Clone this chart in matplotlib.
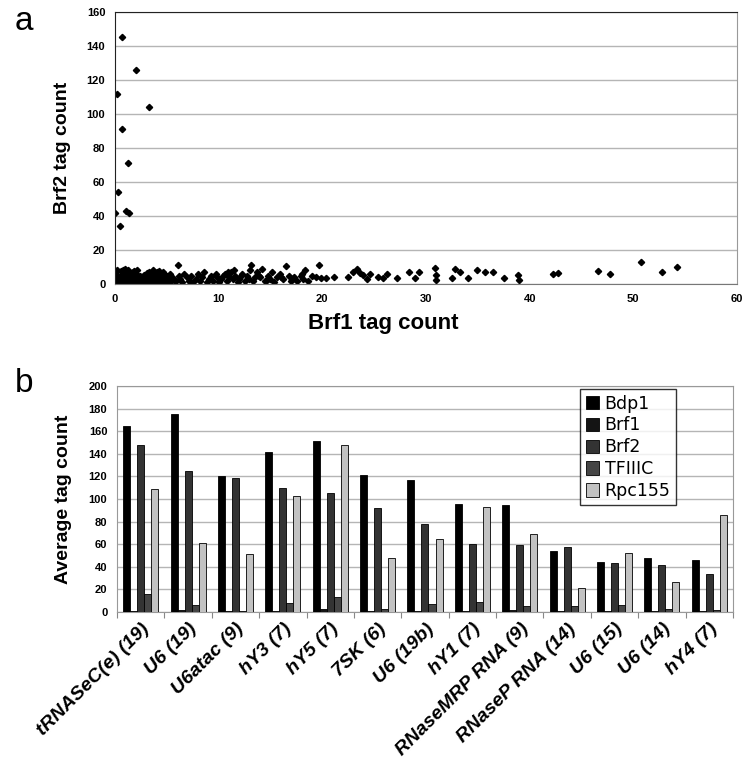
import numpy as np
import matplotlib
matplotlib.use("Agg")
from matplotlib import pyplot as plt

plt.rcParams['font.family'] = ['Liberation Sans', 'DejaVu Sans']

# ---- panel a: Brf1 vs Brf2 tag counts ----
brf1_dense = [
    0.0, 0.1, 0.2, 0.3, 0.4, 0.5, 0.6, 0.7, 0.8, 0.9,
    1.0, 1.1, 1.2, 1.3, 1.4, 1.5, 1.6, 1.7, 1.8, 1.9,
    2.0, 2.1, 2.2, 2.3, 2.4, 2.5, 2.6, 2.7, 2.8, 2.9,
    0.05, 0.15, 0.25, 0.35, 0.45, 0.55, 0.65, 0.75, 0.85, 0.95,
    1.05, 1.15, 1.25, 1.35, 1.45, 1.55, 1.65, 1.75, 1.85, 1.95,
    2.05, 2.15, 2.25, 2.35, 2.45, 2.55, 2.65, 2.75, 2.85, 2.95,
    0.1, 0.3, 0.5, 0.7, 0.9, 1.0, 1.2, 1.4, 1.6, 1.8,
    2.0, 2.2, 2.4, 2.6, 2.8, 3.0, 3.1, 3.2, 3.3, 3.4,
    3.5, 3.6, 3.7, 3.8, 3.9, 4.0, 4.1, 4.2, 4.3, 4.4,
    4.5, 4.6, 4.7, 4.8, 4.9, 5.0, 5.1, 5.2, 5.3, 5.4,
    3.05, 3.25, 3.45, 3.65, 3.85, 4.05, 4.25, 4.45, 4.65, 4.85,
    0.2, 0.6, 1.0, 1.3, 1.7, 2.1, 0.8, 1.5, 5.6, 5.8,
]
brf2_dense = [
    0.5, 1.0, 0.5, 1.5, 0.5, 1.0, 2.0, 0.5, 1.0, 1.5,
    0.5, 1.0, 2.0, 0.5, 1.0, 1.5, 0.5, 1.0, 0.5, 2.0,
    1.0, 0.5, 1.5, 1.0, 0.5, 1.0, 0.5, 1.5, 0.5, 1.0,
    3.0, 2.5, 3.5, 3.0, 2.5, 4.0, 3.0, 3.5, 2.5, 3.0,
    4.0, 3.0, 3.5, 2.5, 4.0, 3.0, 3.5, 3.0, 2.5, 3.5,
    3.0, 2.5, 3.0, 2.5, 3.0, 2.0, 3.5, 2.5, 3.0, 2.0,
    4.5, 5.0, 4.0, 5.5, 5.0, 7.0, 6.0, 6.5, 5.0, 7.5,
    6.0, 5.0, 4.5, 4.0, 5.5, 1.0, 4.0, 0.5, 2.0, 5.0,
    1.5, 3.0, 6.0, 1.0, 4.0, 2.0, 7.0, 0.5, 5.0, 3.0,
    1.0, 6.0, 2.0, 4.0, 1.0, 5.0, 3.0, 0.5, 6.0, 2.0,
    6.5, 7.0, 5.5, 8.0, 6.5, 5.0, 7.5, 4.0, 7.0, 5.5,
    8.5, 7.5, 9.0, 8.0, 7.0, 8.5, 8.0, 6.5, 3.5, 1.5,
]
brf1_mid = [
    5.9, 6.1, 6.3, 6.5, 6.7, 6.9, 7.1, 7.3, 7.5, 7.8,
    8.0, 8.2, 8.4, 8.6, 8.9, 9.1, 9.3, 9.5, 9.8, 10.0,
    10.2, 10.4, 10.6, 10.8, 11.0, 11.2, 11.4, 11.6, 11.9, 12.1,
    12.3, 12.5, 12.7, 12.9, 13.1, 13.3, 13.5, 13.7, 14.0, 14.2,
    14.5, 14.8, 15.0, 15.3, 15.6, 15.9, 16.2, 16.5, 16.8, 17.0,
    17.3, 17.6, 17.9, 18.1, 18.3, 18.6, 19.0, 19.4, 19.7, 6.2,
    9.7, 10.9, 12.0, 13.0, 13.9, 15.1, 16.0, 18.0, 11.5, 14.6,
]
brf2_mid = [
    2.0, 11.0, 3.0, 1.0, 6.0, 4.0, 2.0, 5.0, 1.0, 3.0,
    6.0, 2.0, 4.0, 7.0, 1.0, 3.0, 5.0, 2.0, 4.0, 1.0,
    3.0, 5.0, 6.0, 2.0, 4.0, 7.0, 3.0, 5.0, 1.0, 4.0,
    6.0, 2.0, 5.0, 3.0, 11.0, 2.0, 4.0, 7.0, 4.0, 9.0,
    2.0, 5.0, 3.0, 1.0, 4.0, 6.0, 3.0, 10.5, 5.0, 2.0,
    4.0, 2.0, 5.0, 3.0, 8.0, 2.0, 5.0, 4.0, 11.0, 5.0,
    6.0, 7.0, 3.0, 8.0, 5.0, 7.0, 4.0, 6.0, 8.0, 2.0,
]
brf1_far = [
    19.9, 20.4, 21.1, 22.5, 23.0, 23.3, 23.6, 23.9, 24.3, 24.6,
    25.4, 25.9, 26.2, 27.2, 28.4, 28.9, 29.3, 30.9, 31.0, 31.0,
    32.5, 32.8, 33.3, 34.1, 34.9, 35.7, 36.5, 37.5, 38.9, 39.0,
    42.3, 42.7, 46.6, 47.8, 50.7, 52.8, 54.2,
]
brf2_far = [
    3.3, 3.7, 4.3, 4.3, 7.3, 8.9, 6.3, 5.1, 3.1, 5.7,
    4.3, 3.7, 5.7, 3.3, 7.3, 3.3, 6.9, 9.2, 5.3, 2.4,
    3.3, 8.8, 7.3, 3.7, 8.2, 7.3, 7.3, 3.7, 5.3, 2.4,
    5.7, 6.3, 7.4, 5.7, 12.8, 6.9, 9.8,
]
brf1_hi = [0.65, 2.0, 0.16, 3.3, 0.65, 1.3, 0.3, 0.0, 1.07, 1.35, 0.5]
brf2_hi = [145.5, 126, 112, 104, 91, 71, 54, 41.5, 43, 41.5, 34]

# ---- panel b: average tag counts per gene class ----
genes = ['tRNASeC(e) (19)', 'U6 (19)', 'U6atac (9)', 'hY3 (7)', 'hY5 (7)',
         '7SK (6)', 'U6 (19b)', 'hY1 (7)', 'RNaseMRP RNA (9)',
         'RNaseP RNA (14)', 'U6 (15)', 'U6 (14)', 'hY4 (7)']
bdp1 = [165, 175, 120, 142, 151, 121, 117, 96, 95, 54, 44, 48, 46]
brf1 = [0.5, 1.5, 0.5, 0.5, 3, 0.5, 0.5, 0.5, 1.5, 0.5, 0.5, 0.5, 0.5]
brf2 = [148, 125, 119, 110, 105, 92, 78, 60, 59, 58, 43, 42, 34]
tfiiic = [16, 6, 1, 8, 13, 3, 7, 8.5, 5.5, 5.5, 6, 2.4, 1.5]
rpc155 = [109, 61, 51, 103, 148, 48, 65, 93, 69, 21.5, 52, 27, 86]

series_names = ['Bdp1', 'Brf1', 'Brf2', 'TFIIIC', 'Rpc155']
series_colors = ['#000000', '#141414', '#333333', '#454545', '#c2c2c2']

fig = plt.figure(figsize=(7.51, 7.66), dpi=100)

# top scatter
ax1 = fig.add_axes([0.1531, 0.6292, 0.8282, 0.3551])
xs = brf1_dense + brf1_mid + brf1_far + brf1_hi
ys = brf2_dense + brf2_mid + brf2_far + brf2_hi
ax1.plot(xs, ys, linestyle='none', marker='D', markersize=3.2, color='black')
ax1.set_xlim(0, 60)
ax1.set_ylim(0, 160)
ax1.set_xticks(np.arange(0, 61, 10))
ax1.set_yticks(np.arange(0, 161, 20))
ax1.yaxis.grid(True, color='#b5b5b5', linewidth=1)
ax1.set_axisbelow(True)
for lab in ax1.get_xticklabels() + ax1.get_yticklabels():
    lab.set_fontweight('bold')
    lab.set_fontsize(8)
ax1.tick_params(length=0, pad=7)
ax1.spines['left'].set_color('#222222')
ax1.spines['bottom'].set_color('#777777')
ax1.spines['right'].set_color('#999999')
ax1.spines['top'].set_color('#222222')
ax1.set_xlabel('Brf1 tag count', fontsize=16, fontweight='bold')
ax1.xaxis.set_label_coords(0.432, -0.105)
ax1.set_ylabel('Brf2 tag count', fontsize=14, fontweight='bold')
ax1.yaxis.set_label_coords(-0.071, 0.5)

# bottom grouped bars
ax2 = fig.add_axes([0.1558, 0.2010, 0.8202, 0.2950])
centers = np.arange(len(genes)) + 0.5
w = 0.148
all_series = [bdp1, brf1, brf2, tfiiic, rpc155]
for i, (vals, name, col) in enumerate(zip(all_series, series_names, series_colors)):
    ax2.bar(centers + (i - 2) * w, vals, width=w, color=col, edgecolor='black',
            linewidth=0.6, label=name, zorder=3)
ax2.set_xlim(0, len(genes))
ax2.set_ylim(0, 200)
ax2.set_yticks(np.arange(0, 201, 20))
ax2.yaxis.grid(True, color='#b5b5b5', linewidth=1)
ax2.set_axisbelow(True)
ax2.set_xticks(np.arange(len(genes) + 1))
ax2.set_xticklabels([])
ax2.set_xticks(centers, minor=True)
ax2.set_xticklabels(genes, minor=True, rotation=45, ha='right',
                    rotation_mode='anchor', fontsize=14, fontweight='bold',
                    fontstyle='italic')
ax2.tick_params(axis='x', which='minor', length=0, pad=6)
ax2.tick_params(axis='x', which='major', length=4, color='#888888')
ax2.tick_params(axis='y', length=0, pad=7)
for lab in ax2.get_yticklabels():
    lab.set_fontweight('bold')
    lab.set_fontsize(8)
for s in ['left', 'bottom', 'right', 'top']:
    ax2.spines[s].set_color('#999999')
ax2.set_ylabel('Average tag count', fontsize=14, fontweight='bold')
ax2.yaxis.set_label_coords(-0.073, 0.5)
leg = ax2.legend(loc='upper right', bbox_to_anchor=(0.907, 0.985),
                 borderaxespad=0, frameon=True, fancybox=False,
                 handlelength=0.8, handleheight=0.8, handletextpad=0.3,
                 labelspacing=0.22, borderpad=0.3,
                 prop={'family': 'DejaVu Sans', 'size': 12.5})
leg.get_frame().set_edgecolor('black')
leg.get_frame().set_linewidth(1)

fig.text(15 / 751, 1 - 22 / 766, 'a', fontsize=24, ha='left', va='center')
fig.text(15 / 751, 1 - 383 / 766, 'b', fontsize=24, ha='left', va='center')

fig.savefig('out.png', dpi=100)
